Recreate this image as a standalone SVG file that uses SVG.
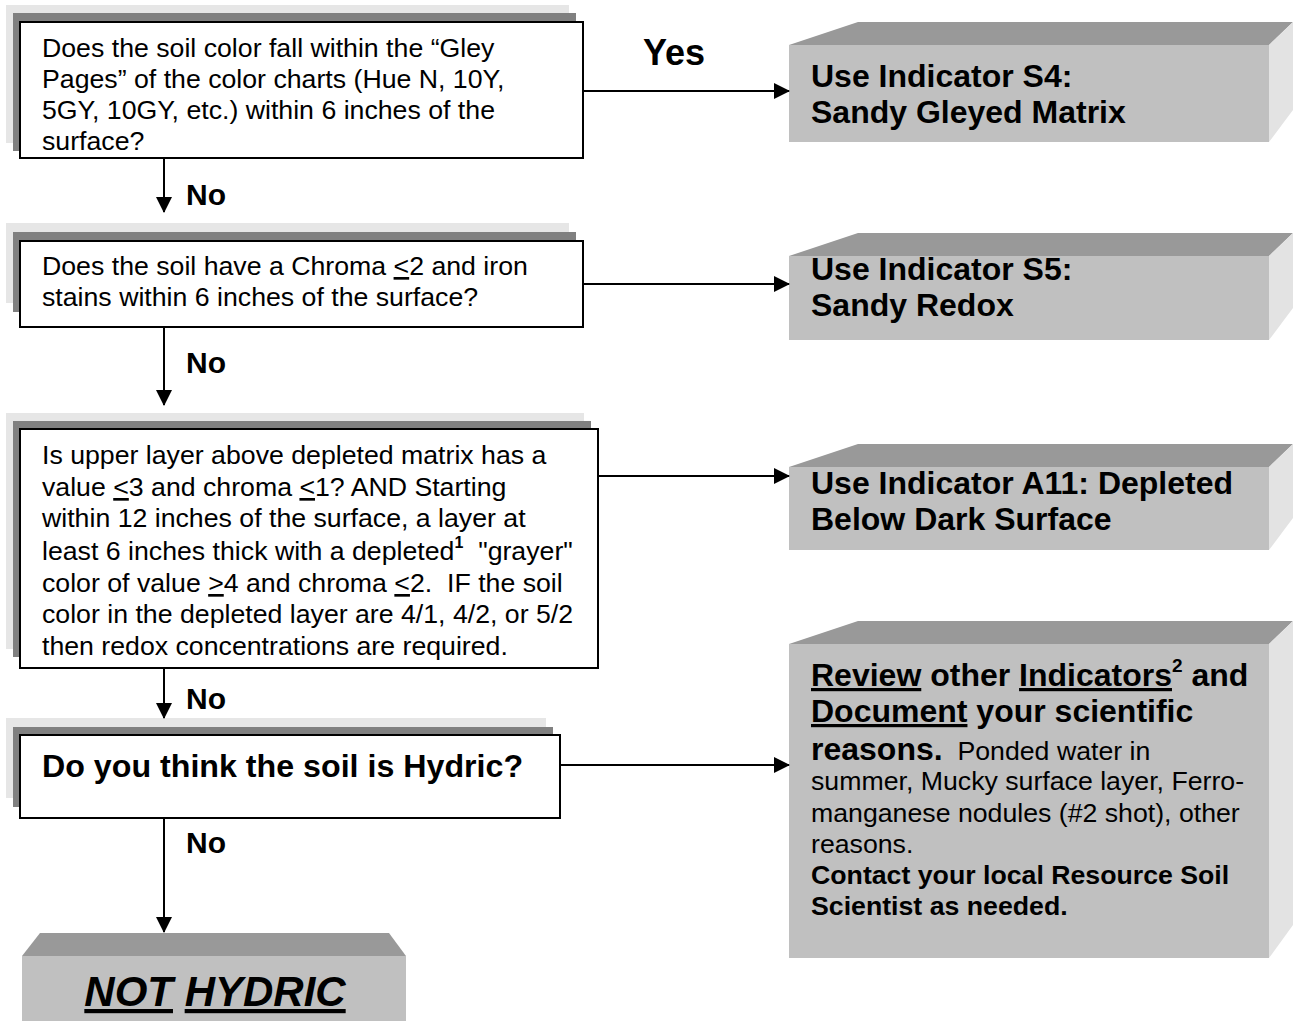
<svg xmlns="http://www.w3.org/2000/svg" width="1293" height="1021" viewBox="0 0 1293 1021">
<defs>
<style>
text{font-family:"Liberation Sans",Arial,sans-serif;fill:#000}
.q{font-size:26.7px}
.qb{font-size:32.2px;font-weight:bold}
.h{font-size:32px;font-weight:bold}
.r{font-size:26.7px;font-weight:normal}
.rb{font-size:26.7px;font-weight:bold}
.lbl{font-size:30px;font-weight:bold}
.u{text-decoration:underline}
.sh1{fill:#e6e6e6}
.sh2{fill:#808080}
.box{fill:#fff;stroke:#000;stroke-width:2}
.front{fill:#c0c0c0}
.top{fill:#999999}
.side{fill:#e3e3e3}
.conn{stroke:#000;stroke-width:2;fill:none}
</style>
<marker id="ah" viewBox="0 0 16 16" refX="15" refY="8" markerWidth="16" markerHeight="16" markerUnits="userSpaceOnUse" orient="auto">
<path d="M0,0 L16,8 L0,16 Z" fill="#000"/>
</marker>
</defs>

<g id="q1">
<rect class="sh1" x="6" y="5" width="563" height="138"/>
<rect class="sh2" x="13" y="13" width="563" height="138"/>
<rect class="box" x="20" y="22" width="563" height="136"/>
<text class="q" x="42" y="57">Does the soil color fall within the “Gley</text>
<text class="q" x="42" y="88">Pages” of the color charts (Hue N, 10Y,</text>
<text class="q" x="42" y="119">5GY, 10GY, etc.) within 6 inches of the</text>
<text class="q" x="42" y="150">surface?</text>
</g>

<g id="q2">
<rect class="sh1" x="6" y="223" width="563" height="80"/>
<rect class="sh2" x="13" y="232" width="563" height="80"/>
<rect class="box" x="20" y="241" width="563" height="86"/>
<text class="q" x="42" y="275">Does the soil have a Chroma <tspan class="u">&lt;</tspan>2 and iron</text>
<text class="q" x="42" y="306">stains within 6 inches of the surface?</text>
</g>

<g id="q3">
<rect class="sh1" x="6" y="413" width="578" height="236"/>
<rect class="sh2" x="13" y="421" width="578" height="236"/>
<rect class="box" x="20" y="429" width="578" height="239"/>
<text class="q" x="42" y="464">Is upper layer above depleted matrix has a</text>
<text class="q" x="42" y="496">value <tspan class="u">&lt;</tspan>3 and chroma <tspan class="u">&lt;</tspan>1? AND Starting</text>
<text class="q" x="42" y="527">within 12 inches of the surface, a layer at</text>
<text class="q" x="42" y="560">least 6 inches thick with a depleted<tspan font-size="16" font-weight="bold" dy="-12">1</tspan><tspan dy="12">&#160; "grayer"</tspan></text>
<text class="q" x="42" y="592">color of value <tspan class="u">&gt;</tspan>4 and chroma <tspan class="u">&lt;</tspan>2.&#160; IF the soil</text>
<text class="q" x="42" y="623">color in the depleted layer are 4/1, 4/2, or 5/2</text>
<text class="q" x="42" y="655">then redox concentrations are required.</text>
</g>

<g id="q4">
<rect class="sh1" x="6" y="718" width="540" height="80"/>
<rect class="sh2" x="13" y="727" width="540" height="80"/>
<rect class="box" x="20" y="735" width="540" height="83"/>
<text class="qb" x="42" y="777">Do you think the soil is Hydric?</text>
</g>

<g id="s4">
<polygon class="top" points="789,45 858,22 1293,22 1269,45"/>
<polygon class="side" points="1269,45 1293,22 1293,110 1269,142"/>
<rect class="front" x="789" y="45" width="480" height="97"/>
<text class="h" x="811" y="87">Use Indicator S4:</text>
<text class="h" x="811" y="123">Sandy Gleyed Matrix</text>
</g>

<g id="s5">
<polygon class="top" points="789,256 858,233 1293,233 1269,256"/>
<polygon class="side" points="1269,256 1293,233 1293,308 1269,340"/>
<rect class="front" x="789" y="256" width="480" height="84"/>
<text class="h" x="811" y="280">Use Indicator S5:</text>
<text class="h" x="811" y="316">Sandy Redox</text>
</g>

<g id="a11">
<polygon class="top" points="789,467 858,444 1293,444 1269,467"/>
<polygon class="side" points="1269,467 1293,444 1293,518 1269,550"/>
<rect class="front" x="789" y="467" width="480" height="83"/>
<text class="h" x="811" y="494">Use Indicator A11: Depleted</text>
<text class="h" x="811" y="530">Below Dark Surface</text>
</g>

<g id="review">
<polygon class="top" points="789,644 858,621 1293,621 1269,644"/>
<polygon class="side" points="1269,644 1293,621 1293,925 1269,958"/>
<rect class="front" x="789" y="644" width="480" height="314"/>
<text class="h" x="811" y="686"><tspan class="u">Review</tspan> other <tspan class="u">Indicators</tspan><tspan font-size="19" dy="-14">2</tspan><tspan dy="14"> and</tspan></text>
<text class="h" x="811" y="722"><tspan class="u">Document</tspan> your scientific</text>
<text x="811" y="760"><tspan class="h">reasons.</tspan><tspan class="r">&#160; Ponded water in</tspan></text>
<text class="r" x="811" y="790">summer, Mucky surface layer, Ferro-</text>
<text class="r" x="811" y="822">manganese nodules (#2 shot), other</text>
<text class="r" x="811" y="853">reasons.</text>
<text class="rb" x="811" y="884">Contact your local Resource Soil</text>
<text class="rb" x="811" y="915">Scientist as needed.</text>
</g>

<g id="nothydric">
<polygon class="top" points="22,956 40,933 389,933 406,956"/>
<rect class="front" x="22" y="956" width="384" height="70"/>
<text x="215" y="1006" text-anchor="middle" font-size="42" font-weight="bold" font-style="italic"><tspan class="u">NOT</tspan> <tspan class="u">HYDRIC</tspan></text>
</g>

<g id="connectors">
<line class="conn" x1="583" y1="91" x2="789" y2="91" marker-end="url(#ah)"/>
<line class="conn" x1="583" y1="284" x2="789" y2="284" marker-end="url(#ah)"/>
<line class="conn" x1="598" y1="476" x2="789" y2="476" marker-end="url(#ah)"/>
<line class="conn" x1="560" y1="765" x2="789" y2="765" marker-end="url(#ah)"/>
<line class="conn" x1="164" y1="158" x2="164" y2="212" marker-end="url(#ah)"/>
<line class="conn" x1="164" y1="327" x2="164" y2="405" marker-end="url(#ah)"/>
<line class="conn" x1="164" y1="668" x2="164" y2="718" marker-end="url(#ah)"/>
<line class="conn" x1="164" y1="818" x2="164" y2="932" marker-end="url(#ah)"/>
<text x="643" y="65" font-size="36" font-weight="bold">Yes</text>
<text class="lbl" x="186" y="205">No</text>
<text class="lbl" x="186" y="373">No</text>
<text class="lbl" x="186" y="709">No</text>
<text class="lbl" x="186" y="853">No</text>
</g>
</svg>
